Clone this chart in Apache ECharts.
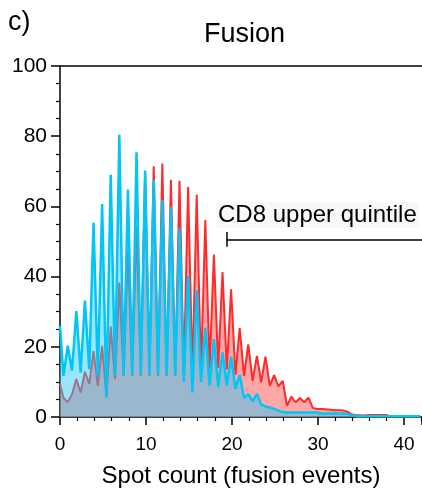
<!DOCTYPE html>
<html>
<head>
<meta charset="utf-8">
<script src="https://cdn.jsdelivr.net/npm/echarts@6/dist/echarts.min.js"></script>
<style>html,body{margin:0;padding:0;background:#fff;}#chart{width:422px;height:493px;}</style>
</head>
<body>
<div id="chart"></div>
<script>
// sample grid: first point at 0, then every 0.5 starting at 0.4
const xStart = 0.4, xStep = 0.5, xCount = 84;
const xValues = [0];
for (let i = 0; i < xCount; i++) xValues.push(+(xStart + i * xStep).toFixed(2));

// CD8 (red) percentages
const redValues = [
  9.4, 5.5, 4.2, 6.5, 10.8, 7.0, 12.9, 9.4, 18.8, 8.9,
  20.3, 5.6, 25.8, 10.8, 38.3, 11.7, 47.4, 11.7, 54.5, 11.7,
  69.5, 11.7, 71.4, 11.7, 72.2, 11.7, 67.6, 11.7, 67.3, 12,
  65.5, 12, 63.3, 13, 56.1, 14, 46.3, 14, 41.3, 13.6,
  36.4, 12, 25.3, 11.7, 20.7, 10.3, 17.4, 9.9, 17.2, 8.9,
  11.9, 8.7, 10.3, 3.2, 5.8, 4.2, 5.4, 4.2, 5.5, 2.6,
  2.3, 2.3, 2.2, 2.1, 1.9, 1.9, 1.9, 1.5, 0.8, 0.5,
  0.5, 0.4, 0.6, 0.6, 0.6, 0.6, 0.6, 0.2, 0.2, 0.2,
  0.2, 0.2, 0.2, 0.2, 0.2
];
// other population (blue) percentages
const blueValues = [
  26, 11.7, 20.3, 13.2, 30.2, 12.7, 33.2, 13.6, 55.3, 11.7,
  60.7, 5.6, 69.0, 11.7, 80.4, 12, 64.8, 12, 75.4, 12,
  70.2, 12, 67.6, 12, 61.9, 12, 59.8, 12, 53.7, 10,
  40.3, 7, 36.1, 10, 25.5, 9, 22.2, 8.5, 18.4, 9,
  17.2, 8, 12, 5.4, 6.5, 4.5, 6.6, 3.5, 3.0, 2.7,
  2.3, 1.8, 1.4, 1.3, 1.3, 1.3, 1.3, 1.3, 1.3, 1.3,
  1.3, 1.0, 1.0, 1.0, 1.0, 1.0, 1.0, 0.9, 0.5, 0.3,
  0.2, 0.2, 0.2, 0.2, 0.2, 0.2, 0.2, 0.2, 0.2, 0.2,
  0.2, 0.2, 0.2, 0.2, 0.2
];

const xTicks = [0, 10, 20, 30, 40];
const yTicks = [0, 20, 40, 60, 80, 100];
const quintileStart = 19.4;
const quintileLevel = 50.6;
const quintileLabel = 'CD8 upper quintile';
const titleText = 'Fusion';
const panelText = 'c)';
const xTitle = 'Spot count (fusion events)';

const FONT = 'Liberation Sans, Arial, Helvetica, sans-serif';
const redData = xValues.map((x, i) => [x, redValues[i]]);
const blueData = xValues.map((x, i) => [x, blueValues[i]]);
const axisColor = '#000';

const chart = echarts.init(document.getElementById('chart'), null, {renderer: 'canvas'});
chart.setOption({
  animation: false,
  backgroundColor: '#fff',
  textStyle: {fontFamily: FONT},
  grid: {left: 60, right: 0, top: 66, bottom: 75},
  xAxis: [{
    type: 'value', min: 0, max: 42.1, interval: 10,
    axisLine: {onZero: false, lineStyle: {color: axisColor, width: 1.5}},
    axisTick: {length: 8, lineStyle: {color: axisColor, width: 1.5}},
    minorTick: {show: true, splitNumber: 5, length: 4, lineStyle: {color: axisColor, width: 1.2}},
    splitLine: {show: false},
    axisLabel: {color: '#000', fontSize: 19, margin: 18, fontFamily: FONT, showMaxLabel: false,
      formatter: v => xTicks.includes(v) ? String(v) : ''},
    name: xTitle, nameLocation: 'middle', nameGap: 47,
    nameTextStyle: {color: '#000', fontSize: 24, fontFamily: FONT}
  }, {
    type: 'value', position: 'top', min: 0, max: 42.1,
    axisLine: {show: true, onZero: false, lineStyle: {color: axisColor, width: 1.5}},
    axisTick: {show: false}, axisLabel: {show: false}, splitLine: {show: false}
  }],
  yAxis: {
    type: 'value', min: 0, max: 100, interval: 20,
    axisLine: {show: true, onZero: false, lineStyle: {color: axisColor, width: 1.5}},
    axisTick: {show: true, length: 9, lineStyle: {color: axisColor, width: 1.5}},
    minorTick: {show: true, splitNumber: 4, length: 4, lineStyle: {color: axisColor, width: 1.2}},
    splitLine: {show: false},
    axisLabel: {color: '#000', fontSize: 21, margin: 13, fontFamily: FONT,
      formatter: v => yTicks.includes(v) ? String(v) : ''}
  },
  series: [{
    name: 'CD8', type: 'line', data: redData, symbol: 'none', smooth: false,
    lineStyle: {color: '#ff2b2b', width: 2},
    areaStyle: {color: 'rgba(255,80,80,0.5)', opacity: 1, origin: 'start'},
    z: 2,
    markLine: {
      silent: true, symbol: 'none', animation: false,
      label: {show: false},
      lineStyle: {color: '#000', width: 1.5, type: 'solid'},
      data: [
        [{coord: [quintileStart, quintileLevel]}, {coord: [42.1, quintileLevel]}],
        [{coord: [quintileStart, quintileLevel - 2.1]}, {coord: [quintileStart, quintileLevel + 2.1]}]
      ]
    }
  }, {
    name: 'Other', type: 'line', data: blueData, symbol: 'none', smooth: false,
    lineStyle: {color: '#00c6f8', width: 2.5},
    areaStyle: {color: 'rgba(46,200,246,0.48)', opacity: 1, origin: 'start'},
    z: 3
  }],
  graphic: [
    {type: 'text', left: 8, top: 9, style: {text: panelText, font: '27px ' + FONT, fill: '#000'}},
    {type: 'text', left: 204, top: 21, style: {text: titleText, font: '27px ' + FONT, fill: '#000'}},
    {type: 'text', left: 216, top: 202, z: 10,
      style: {text: quintileLabel, font: '24px ' + FONT, fill: '#000', backgroundColor: '#f8f8f8', padding: [1, 2]}}
  ]
});
</script>
</body>
</html>
